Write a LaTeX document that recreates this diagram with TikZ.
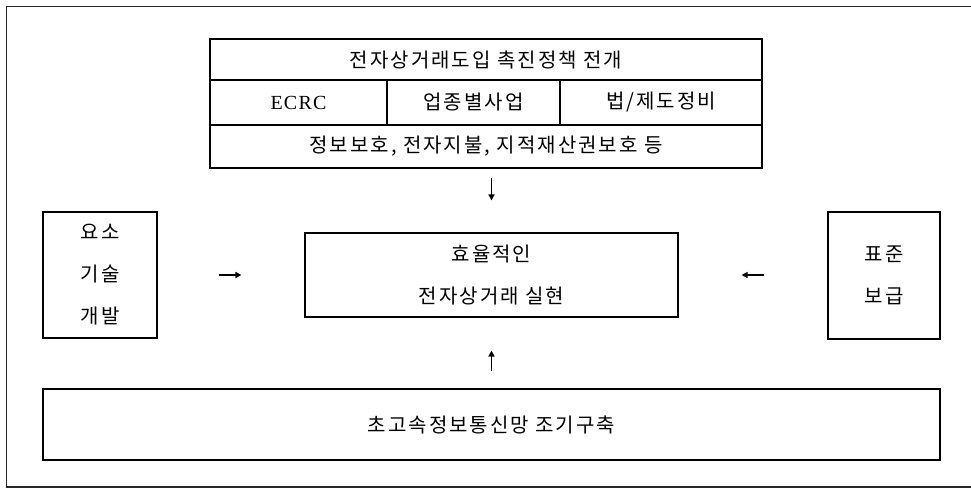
\documentclass[tikz,border=0pt]{standalone}
\usepackage{fontspec}
\newfontfamily\kr[LetterSpace=10]{Noto Sans CJK KR}
\newfontfamily\lserif[LetterSpace=6]{Liberation Serif}
\usetikzlibrary{arrows.meta}
\begin{document}
\begin{tikzpicture}[x=1pt,y=-1pt,
  box/.style={draw, line width=1.1pt, inner sep=0pt, minimum width=#1, font=\kr\fontsize{20}{24}\selectfont},
  arr/.style={-{Triangle[length=6pt,width=6pt]}, line width=1.4pt}]
\useasboundingbox (0,0) rectangle (971,488);
\draw[line width=1.8pt, black!85] (975,6.5) -- (6.5,6.5) -- (6.5,487) -- (975,487);
% top box
\node[box=552pt, minimum height=41pt] (title) at (486,59.5) {전자상거래도입 촉진정책 전개};
\node[box=177pt, minimum height=45pt] (ecrc) at (298.5,102.5) {\lserif ECRC};
\node[box=173pt, minimum height=45pt] (upjong) at (473.5,102.5) {업종별사업};
\node[box=202pt, minimum height=45pt] (beop) at (661,102.5) {법/제도정비};
\node[box=552pt, minimum height=43pt] (row3) at (486,146.5) {정보보호, 전자지불, 지적재산권보호 등};
% middle
\node[box=114pt, minimum height=126pt, align=center] (left) at (100,275) {요소\\[18pt]기술\\[18pt]개발};
\node[box=373pt, minimum height=84pt, align=center] (center) at (491.5,275) {효율적인\\[18pt]전자상거래 실현};
\node[box=112pt, minimum height=127pt, align=center] (right) at (884,275.5) {표준\\[18pt]보급};
% bottom
\node[box=897pt, minimum height=71pt] (bottom) at (491.5,424.5) {초고속정보통신망 조기구축};
% arrows
\draw[arr, shorten <=9pt, shorten >=32pt] (center.north |- row3.south) -- (center.north);
\draw[arr, shorten <=61pt, shorten >=63pt] (left.east |- center.west) -- (center.west);
\draw[arr, shorten <=63pt, shorten >=63pt] (right.west |- center.east) -- (center.east);
\draw[arr, shorten <=17pt, shorten >=33pt] (center.south |- bottom.north) -- (center.south);
\end{tikzpicture}
\end{document}
